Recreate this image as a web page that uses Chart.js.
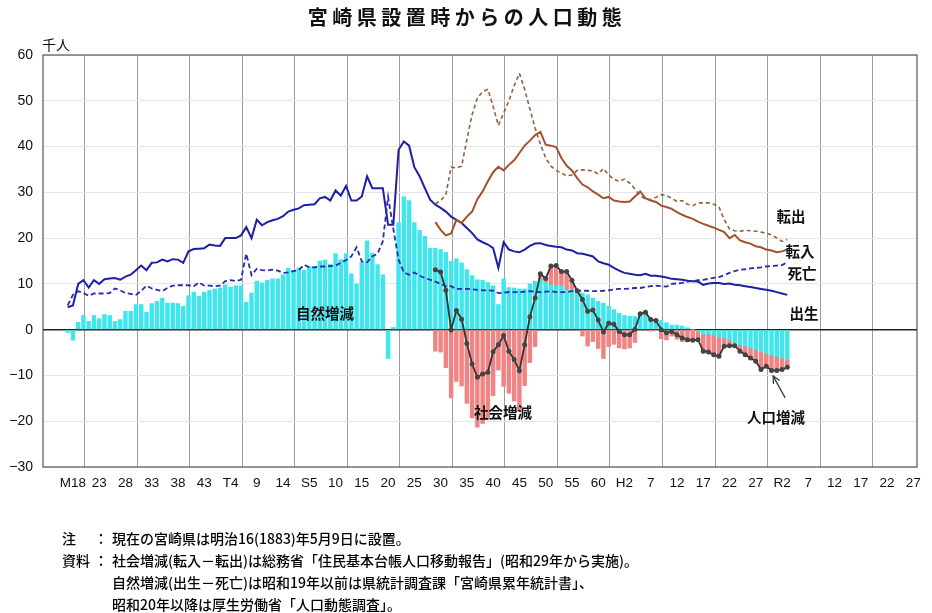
<!DOCTYPE html>
<html><head><meta charset="utf-8">
<script src="https://cdn.jsdelivr.net/npm/chart.js@4.4.0/dist/chart.umd.min.js"></script>
<style>
body{margin:0;background:#fff;}
#wrap{position:relative;width:932px;height:613px;overflow:hidden;font-family:"Noto Sans CJK JP","Noto Sans",sans-serif;color:#111;}
canvas{position:absolute;left:0;top:0;}
.t{position:absolute;white-space:nowrap;transform:translate(-50%,-50%);line-height:1;}
.lbl{font-size:14.5px;font-weight:bold;}
#notes{position:absolute;left:62px;top:527px;font-size:14px;line-height:22px;white-space:nowrap;font-weight:500;color:#000;}
#notes .k{display:inline-block;width:32px;}
#notes .c{display:inline-block;width:18px;}
#notes .ind{padding-left:50px;}
</style></head>
<body>
<div id="wrap">
<canvas id="c" width="932" height="613"></canvas>
<div class="t" style="left:467px;top:17px;font-size:20px;font-weight:bold;letter-spacing:4.5px;">宮崎県設置時からの人口動態</div>
<div class="t" style="left:56px;top:44px;font-size:14px;">千人</div>
<div class="t lbl" style="left:325px;top:313px;">自然増減</div>
<div class="t lbl" style="left:503px;top:412px;">社会増減</div>
<div class="t lbl" style="left:776px;top:417px;">人口増減</div>
<div class="t lbl" style="left:791px;top:216px;">転出</div>
<div class="t lbl" style="left:800px;top:251px;">転入</div>
<div class="t lbl" style="left:802px;top:273px;">死亡</div>
<div class="t lbl" style="left:804px;top:313px;">出生</div>
<div id="notes">
<div><span class="k">注</span><span class="c">：</span>現在の宮崎県は明治16(1883)年5月9日に設置。</div>
<div><span class="k">資料</span><span class="c">：</span>社会増減(転入－転出)は総務省「住民基本台帳人口移動報告」(昭和29年から実施)。</div>
<div class="ind">自然増減(出生－死亡)は昭和19年以前は県統計調査課「宮崎県累年統計書」、</div>
<div class="ind">昭和20年以降は厚生労働省「人口動態調査」。</div>
</div>
</div>
<script>
// ---- data (thousand persons) ----
const naturalStartYear = 1884;   // births, deaths, natural increase: 1884-2021
const socialStartYear = 1954;    // migration series: 1954-2021

const births = [4.9,5.3,10.0,10.8,9.2,10.8,10.0,11.0,11.2,11.3,
10.9,11.6,12.0,13.0,14.0,13.0,14.6,14.7,15.3,14.9,
15.4,15.3,14.6,17.1,17.6,17.7,17.8,18.6,18.4,18.3,
20.0,20.0,20.0,20.6,22.4,20.0,24.0,22.8,23.5,23.9,
24.2,24.8,25.8,26.2,26.5,27.2,27.3,27.4,28.7,29.0,
28.2,30.4,29.3,31.4,28.2,28.2,29.1,33.5,30.9,30.9,
30.9,22.9,22.9,39.3,41.1,40.2,35.5,33.5,30.9,28.4,
27.3,26.6,25.8,24.7,24.0,23.3,22.2,21.1,19.7,19.1,
18.6,17.8,13.5,19.1,17.5,17.1,16.9,17.5,18.3,18.8,
18.9,18.5,18.3,18.1,18.0,17.5,17.3,16.7,16.6,16.3,
16.0,14.9,14.5,14.2,13.5,12.9,12.4,12.2,12.0,11.9,
12.2,11.8,11.8,11.6,11.4,11.1,11.0,10.9,10.7,10.6,
10.5,9.8,10.1,10.2,10.2,10.0,10.1,9.8,9.7,9.5,
9.3,9.1,8.9,8.7,8.5,8.2,7.9,7.6];

const deaths = [5.3,7.6,8.4,8.0,7.4,7.9,7.9,7.9,8.0,9.0,
8.6,8.0,7.8,7.6,8.5,9.6,9.0,8.7,8.4,9.1,
9.6,9.7,9.7,9.7,9.5,10.3,9.6,9.6,9.5,9.6,
10.6,10.8,10.6,10.9,16.6,11.9,13.3,13.0,12.9,13.1,
12.9,12.4,12.5,12.8,13.0,14.2,13.6,13.6,13.8,13.8,
13.9,14.0,14.6,15.2,16.0,18.0,14.9,14.7,16.0,16.6,
19.3,29.0,22.0,15.3,12.5,12.0,12.5,11.8,11.3,10.9,
10.5,10.0,9.5,9.5,8.9,8.9,8.9,8.8,8.7,8.6,
8.6,8.5,8.0,8.1,8.2,8.2,8.2,8.3,8.4,8.3,
8.2,8.3,8.4,8.2,8.2,8.2,8.4,8.5,8.5,8.5,
8.4,8.4,8.5,8.6,8.8,8.9,8.9,9.0,9.1,9.1,
9.3,9.5,9.6,9.5,9.4,10.0,10.1,10.2,10.5,10.6,
10.8,10.9,11.1,11.3,11.5,11.9,12.4,12.8,13.1,13.2,
13.4,13.5,13.6,13.8,13.9,14.0,14.1,14.7];

const naturalIncrease = [-0.6,-2.3,1.6,3.1,1.8,3.1,2.4,3.3,3.1,1.8,
2.2,4.0,4.0,5.5,5.5,3.8,5.7,6.2,6.9,5.8,
5.8,5.7,5.1,7.4,8.2,7.3,8.2,8.6,8.9,9.1,
9.8,9.3,9.6,9.6,6.0,8.0,10.6,10.2,10.8,11.1,
11.1,12.0,13.4,13.0,13.5,13.0,13.8,13.8,15.0,15.2,
14.3,16.6,15.3,16.6,12.2,10.0,14.7,19.4,16.7,14.2,
12.0,-6.3,0.5,23.4,29.0,28.2,23.4,21.7,20.4,17.8,
17.8,17.5,16.9,14.9,15.5,14.6,13.1,11.8,10.9,10.8,
10.3,9.6,5.5,11.1,9.2,9.1,8.9,8.9,10.0,10.6,
10.9,10.3,9.8,9.5,9.5,8.7,8.7,8.0,8.0,7.6,
6.9,6.2,5.8,5.1,4.4,3.6,3.1,2.9,2.9,3.3,
3.1,2.5,2.2,2.0,1.5,1.0,1.0,0.8,0.4,0.0,
-0.3,-1.0,-1.0,-1.2,-1.6,-1.8,-2.3,-2.8,-3.3,-3.6,
-4.0,-4.4,-4.8,-5.2,-5.6,-5.9,-6.2,-6.6];

const socialIncrease = [-4.7,-4.9,-8.3,-14.9,-11.3,-12.3,-16.1,-19.3,-21.3,-20.5,
-19.6,-14.4,-8.8,-12.4,-13.9,-15.6,-17.9,-12.2,-7.2,-3.7,
1.3,0.9,4.1,4.5,3.2,4.0,2.1,0.5,-1.4,-3.6,
-2.6,-4.1,-6.3,-3.7,-3.2,-4.0,-4.2,-4.0,-2.8,0.2,
0.7,-0.3,-0.2,-2.0,-2.2,-1.4,-2.1,-2.6,-2.6,-2.3,
-1.9,-3.7,-3.9,-4.3,-4.2,-1.8,-1.2,-0.7,-1.4,-1.9,
-2.2,-2.5,-3.9,-2.8,-3.3,-3.0,-2.5,-1.6];

const populationChange = [13.1,12.6,8.6,0.0,4.2,2.3,-3.0,-7.5,-10.4,-9.7,
-9.3,-4.8,-3.3,-1.3,-4.7,-6.5,-9.0,-3.3,2.8,6.9,
12.2,11.2,13.9,14.0,12.7,12.7,10.8,8.5,6.6,4.0,
4.3,2.1,-0.5,1.4,1.2,-0.4,-1.1,-1.1,0.1,3.5,
3.8,2.2,2.0,0.0,-0.7,-0.4,-1.1,-1.8,-2.2,-2.3,
-2.2,-4.7,-4.9,-5.5,-5.8,-3.6,-3.5,-3.5,-4.7,-5.5,
-6.2,-6.9,-8.7,-8.0,-8.9,-8.9,-8.7,-8.2];

const moveIn = [23.5,21.8,20.6,21.0,24.0,23.3,24.7,25.8,28.5,30.2,
32.4,34.4,35.6,34.8,36.0,37.0,38.6,40.2,41.3,42.5,
43.2,40.4,40.2,39.9,37.5,35.8,34.8,33.1,31.7,31.1,
30.2,29.5,28.7,29.0,28.2,28.0,27.9,28.0,29.1,30.2,
28.7,28.2,27.9,27.1,26.8,26.4,25.7,25.1,24.6,24.2,
23.6,23.1,22.7,22.3,21.8,21.3,20.0,20.7,19.5,19.1,
18.8,18.2,18.0,17.5,17.3,16.9,17.1,17.5];

const moveOut = [27.5,28.2,29.5,35.5,35.3,35.7,41.5,47.0,50.6,52.0,
52.5,48.8,44.6,47.3,50.0,53.3,56.0,52.5,48.2,44.0,
40.5,37.5,35.7,34.8,34.2,33.6,33.8,34.8,34.9,34.8,
34.7,34.0,35.2,33.8,32.8,32.4,32.9,32.0,30.7,29.3,
28.5,28.4,28.9,29.5,29.3,28.7,28.0,28.2,27.4,27.1,
27.7,27.7,27.7,27.4,26.8,24.0,22.0,21.6,21.5,21.7,
21.6,21.5,21.3,21.1,20.7,20.0,19.3,19.7];

// x-axis tick labels, one every 5 years from 1885 (明治18) to 2045 (令和27)
const firstLabelYear = 1885;
const tickLabels = ['M18','23','28','33','38','43','T4','9','14','S5','10','15','20','25','30','35','40','45','50','55','60','H2','7','12','17','22','27','R2','7','12','17','22','27'];
const yTicks = [-30,-20,-10,0,10,20,30,40,50,60];

// ---- build ----
const pts = (arr, start) => arr.map((v,i)=>({x: start + i + 0.5, y: v}));
const labelYears = tickLabels.map((_,i)=>firstLabelYear + 5*i);
const gridYears = []; for (let g=1890; g<=2040; g+=10) gridYears.push(g);

const decor = {
  id:'decor',
  afterDatasetsDraw(chart){
    const {ctx, chartArea:a, scales:{x,y}} = chart;
    ctx.save();
    ctx.strokeStyle = '#555'; ctx.lineWidth = 1.2;
    ctx.strokeRect(a.left, a.top, a.right-a.left, a.bottom-a.top);
    // arrow pointing at the population line
    const hx = x.getPixelForValue(2018.8), hy = y.getPixelForValue(-10.1);
    const tx = x.getPixelForValue(2021.1), ty = y.getPixelForValue(-14.9);
    ctx.strokeStyle = '#333'; ctx.lineWidth = 1.2;
    ctx.beginPath(); ctx.moveTo(tx,ty); ctx.lineTo(hx,hy); ctx.stroke();
    const ang = Math.atan2(hy-ty, hx-tx), L = 8;
    ctx.beginPath();
    ctx.moveTo(hx - L*Math.cos(ang-0.45), hy - L*Math.sin(ang-0.45));
    ctx.lineTo(hx,hy);
    ctx.lineTo(hx - L*Math.cos(ang+0.45), hy - L*Math.sin(ang+0.45));
    ctx.stroke();
    ctx.restore();
  }
};

new Chart(document.getElementById('c'), {
  data: {
    datasets: [
      {type:'line', label:'人口増減', data: pts(populationChange, socialStartYear), yAxisID:'yl',
       borderColor:'#333', borderWidth:1.8, pointRadius:2.5, pointBackgroundColor:'#444', pointBorderWidth:0, tension:0},
      {type:'line', label:'転出', data: pts(moveOut, socialStartYear), yAxisID:'yl',
       borderColor:'#93603f', borderWidth:1.6, borderDash:[4,3], pointRadius:0, tension:0},
      {type:'line', label:'転入', data: pts(moveIn, socialStartYear), yAxisID:'yl',
       borderColor:'#a0522d', borderWidth:2, pointRadius:0, tension:0},
      {type:'line', label:'死亡', data: pts(deaths, naturalStartYear), yAxisID:'yl',
       borderColor:'#2a2ab0', borderWidth:1.8, borderDash:[5,3], pointRadius:0, tension:0},
      {type:'line', label:'出生', data: pts(births, naturalStartYear), yAxisID:'yl',
       borderColor:'#1e1ea8', borderWidth:2, pointRadius:0, tension:0},
      {type:'bar', label:'自然増減', data: pts(naturalIncrease, naturalStartYear), yAxisID:'y',
       backgroundColor:'#40e6ec', borderWidth:0, barThickness:3.8},
      {type:'bar', label:'社会増減', data: pts(socialIncrease, socialStartYear), yAxisID:'y',
       backgroundColor:'#f08484', borderWidth:0, barThickness:3.8}
    ]
  },
  options: {
    responsive:false, animation:false, devicePixelRatio:1,
    layout:{padding:{top:55,right:15,bottom:0,left:0}},
    plugins:{legend:{display:false}, tooltip:{enabled:false}, title:{display:false}},
    scales:{
      x:{type:'linear', min:1879.8, max:2046.2, stacked:true, offset:false,
         afterBuildTicks: s => {
           const v = [...labelYears.map(y=>y+0.5), ...gridYears].sort((a,b)=>a-b);
           s.ticks = v.map(value=>({value}));
         },
         afterFit: s => { s.height = 146; },
         grid:{drawTicks:false, color: c => (c.tick && Number.isInteger(c.tick.value)) ? '#9c9c9c' : 'rgba(0,0,0,0)', lineWidth:1},
         border:{display:false},
         ticks:{autoSkip:false, maxRotation:0, minRotation:0, padding:8, color:'#111',
                font:{family:'"Liberation Sans", Arial, sans-serif', size:13.5},
                callback: v => { const i = labelYears.indexOf(v-0.5); return i>=0 ? tickLabels[i] : ''; }}
      },
      y:{type:'linear', min:-30, max:60, stacked:true,
         afterBuildTicks: s => { s.ticks = yTicks.map(value=>({value})); },
         afterFit: s => { s.width = 43; },
         grid:{drawTicks:false, color: c => (c.tick && c.tick.value===0) ? '#222' : '#e6e6e6', lineWidth: c => (c.tick && c.tick.value===0) ? 1.5 : 1},
         border:{display:false},
         ticks:{padding:10, color:'#111', font:{family:'"Liberation Sans", Arial, sans-serif', size:14},
                callback: v => String(v).replace('-', '\u2212')}
      },
      yl:{type:'linear', min:-30, max:60, display:false, stacked:false}
    }
  },
  plugins:[decor]
});
</script>
</body></html>
